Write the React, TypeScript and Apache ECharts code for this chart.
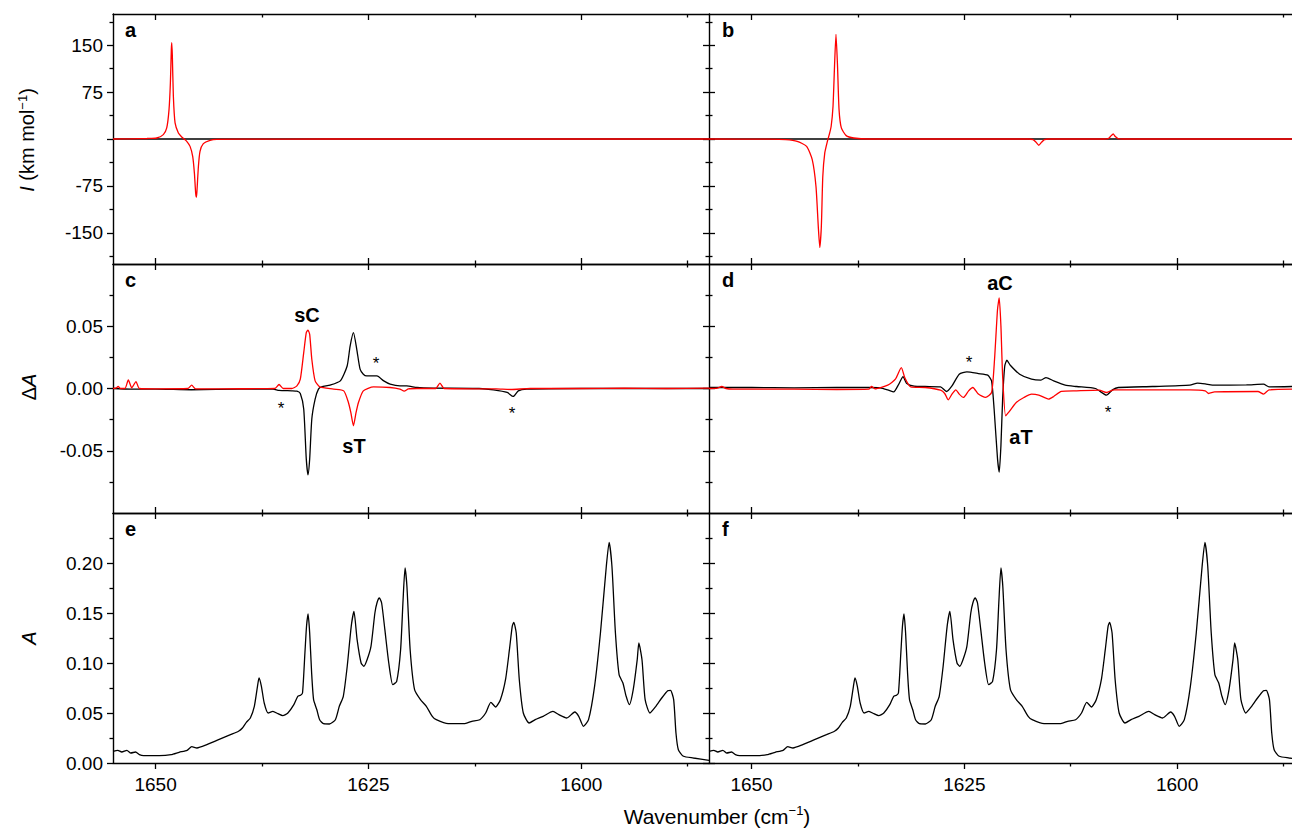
import React, { useEffect, useRef } from 'react';
import * as echarts from 'echarts';

const FONT = '"Liberation Sans", Arial, Helvetica, sans-serif';

// ---- axis ticks ----
const xMajor = [1650, 1625, 1600];
const xMinor = [1637.5, 1612.5, 1587.5];
const xLeftRange = [1585, 1655];
const xRightRange = [1586.5, 1655];

const iMajor = [-150, -75, 0, 75, 150];
const iLabels = [-150, -75, 75, 150];
const iMinor = [-187.5, -112.5, -37.5, 37.5, 112.5, 187.5];
const dMajor = [-0.05, 0, 0.05];
const dLabels = [-0.05, 0, 0.05];
const dMinor = [-0.075, -0.025, 0.025, 0.075];
const aMajor = [0, 0.05, 0.1, 0.15, 0.2];
const aLabels = [0, 0.05, 0.1, 0.15, 0.2];
const aMinor = [0.025, 0.075, 0.125, 0.175, 0.225];

// ---- data: [wavenumber, value] ----
const zeroLine: [number, number][] = [[1655, 0], [1585, 0]];

const aRed: [number, number][] = [
  [1655, 0], [1653, 0.3], [1651, 0.8], [1649.87, 1.6], [1649.09, 7], [1648.69, 17.7], [1648.42, 47],
  [1648.26, 90], [1648.15, 143], [1648.1, 154], [1648.03, 133], [1647.91, 68.5], [1647.71, 25.7],
  [1647.32, 9.6], [1646.93, 3.2], [1646.66, 0], [1646.34, -3.7], [1645.95, -11.8], [1645.64, -27.8],
  [1645.44, -54.6], [1645.29, -86.7], [1645.2, -93], [1645.13, -81.3], [1644.97, -43.9], [1644.78, -19.8],
  [1644.39, -7.5], [1643.6, -2.1], [1642.8, -0.5], [1640, -0.2], [1630, 0], [1585, 0],
];

const bRed: [number, number][] = [
  [1655, 0], [1648, -0.3], [1645.97, -1], [1644.64, -3.7], [1643.53, -11.8], [1642.87, -33], [1642.43, -76],
  [1642.16, -140], [1641.98, -173.5], [1641.8, -140], [1641.63, -60], [1641.4, -22.5], [1641.09, -3.7],
  [1640.87, 7], [1640.65, 20], [1640.43, 52], [1640.25, 117], [1640.08, 167.5], [1639.9, 117],
  [1639.72, 47], [1639.45, 17.7], [1638.88, 5.4], [1637.99, 1.6], [1636.2, 0], [1617.5, 0],
  [1616.92, -1.1], [1616.56, -5.4], [1616.25, -10], [1615.94, -5.4], [1615.59, -1.1], [1615, 0],
  [1608.6, 0], [1608.04, 1.1], [1607.74, 5.4], [1607.51, 8], [1607.29, 4.3], [1606.94, 0.5], [1606.3, 0],
  [1586.5, 0],
];

const cRed: [number, number][] = [
  [1655, 0], [1654.6, 0.0005], [1654.4, 0.0016], [1654.1, 0], [1653.6, 0], [1653.2, 0.0069], [1652.8, 0.0005],
  [1652.3, 0.0056], [1651.9, 0], [1650, -0.0003], [1646.2, 0], [1645.76, 0.0027], [1645.3, -0.0003],
  [1640, -0.0002], [1636, 0], [1635.5, 0.0032], [1635, 0], [1634, 0], [1633.4, 0.0021], [1633.0, 0.0075],
  [1632.6, 0.0288], [1632.3, 0.0448], [1632.1, 0.0469], [1631.9, 0.0435], [1631.65, 0.0235], [1631.26, 0.0061],
  [1630.7, 0.0013], [1629.1, -0.0005], [1627.9, -0.0019], [1627.35, -0.0112], [1627.07, -0.0192],
  [1626.76, -0.0299], [1626.45, -0.0192], [1626.17, -0.0112], [1625.6, -0.0019], [1624.4, 0.0013],
  [1622.45, 0.0008], [1621.3, -0.0005], [1620.8, -0.0021], [1620.3, -0.0003], [1619.3, 0], [1617.1, 0],
  [1616.6, 0.0043], [1616.1, 0], [1610, -0.0003], [1608.3, -0.0008], [1606, 0], [1600, 0], [1595, 0.0003],
  [1590, 0], [1585, 0.0003],
];

const cBlack: [number, number][] = [
  [1655, 0], [1653, -0.0005], [1650, -0.0005], [1645.8, -0.001], [1640, -0.0005], [1636.2, -0.0005],
  [1635.5, -0.0015], [1634, -0.0019], [1633.4, -0.0022], [1633.0, -0.004], [1632.6, -0.0165],
  [1632.3, -0.0565], [1632.1, -0.0693], [1631.9, -0.0565], [1631.65, -0.0245], [1631.26, -0.0085],
  [1630.87, -0.0005], [1630.5, 0.0013], [1629.5, 0.0027], [1628.3, 0.0061], [1627.5, 0.0181],
  [1627.15, 0.0341], [1626.76, 0.0448], [1626.37, 0.0315], [1625.98, 0.0155], [1625.6, 0.0115],
  [1625.2, 0.0101], [1624.0, 0.0101], [1623.2, 0.0061], [1622.45, 0.0035], [1621.3, 0.0021],
  [1620.5, 0.0021], [1619.3, 0.0008], [1617.4, 0.0003], [1612, 0], [1610.3, -0.0011], [1608.7, -0.0032],
  [1608.0, -0.0064], [1607.4, -0.0019], [1606.4, -0.0005], [1600, 0], [1590, 0], [1585, 0],
];

const dRed: [number, number][] = [
  [1655, 0], [1654, 0.0003], [1653.5, 0.0016], [1653.0, 0], [1652.2, -0.0005], [1645, -0.0005],
  [1640, -0.0008], [1636.2, -0.0005], [1635.9, 0.0016], [1635.5, -0.0003], [1634.0, 0.0027],
  [1633.1, 0.0075], [1632.4, 0.0168], [1632.0, 0.0088], [1631.3, 0.0013], [1629.6, 0.0008],
  [1627.8, -0.0013], [1627.3, -0.004], [1626.9, -0.0091], [1626.45, -0.0045], [1626.0, -0.0011],
  [1625.6, -0.0045], [1625.1, -0.0072], [1624.5, -0.0019], [1624.0, 0.0008], [1623.35, -0.0045],
  [1622.5, -0.0072], [1621.8, -0.0032], [1621.45, 0.0235], [1621.1, 0.0635], [1620.9, 0.0728],
  [1620.7, 0.0501], [1620.5, 0.0101], [1620.15, -0.0219], [1619.8, -0.0192], [1618.9, -0.0112],
  [1618.0, -0.0072], [1617.1, -0.0045], [1616.25, -0.0053], [1615.1, -0.0085], [1614.5, -0.0064],
  [1613.6, -0.0024], [1611.8, -0.0019], [1609.15, -0.0013], [1608.3, -0.0032], [1607.4, -0.0011],
  [1602.9, -0.0011], [1598.5, -0.0011], [1596.7, -0.0019], [1596.3, -0.004], [1595.6, -0.0027],
  [1590.5, -0.0024], [1589.85, -0.0045], [1589.2, -0.0011], [1586.5, -0.0005],
];

const dBlack: [number, number][] = [
  [1655, 0.0008], [1650, 0.0008], [1645, 0.0005], [1640, 0.0008], [1636.2, 0.0008], [1634.9, 0.0005],
  [1634.0, -0.0011], [1633.3, -0.0027], [1632.7, 0.0035], [1632.2, 0.0096], [1631.8, 0.0043],
  [1630.9, 0.0019], [1629.6, 0.0016], [1627.8, 0.0013], [1627.1, -0.0024], [1626.45, 0.0021],
  [1625.6, 0.0115], [1624.7, 0.0133], [1623.35, 0.012], [1622.25, 0.0107], [1621.8, 0.0061],
  [1621.5, -0.0165], [1621.1, -0.0565], [1620.9, -0.0672], [1620.7, -0.0459], [1620.5, -0.0085],
  [1620.25, 0.0181], [1620.0, 0.0227], [1619.6, 0.0187], [1618.5, 0.0115], [1617.1, 0.0075],
  [1616.0, 0.0067], [1615.4, 0.0088], [1614.5, 0.0061], [1613.15, 0.0027], [1611.8, 0.0016],
  [1609.6, 0], [1608.3, -0.0053], [1607.6, -0.0011], [1606.9, 0.0008], [1602.9, 0.0016],
  [1598.5, 0.0027], [1597.6, 0.0043], [1596.7, 0.0037], [1595.85, 0.0027], [1591.85, 0.0029],
  [1589.85, 0.0035], [1589.2, 0.0013], [1586.5, 0.0016],
];

const absorbance: [number, number][] = [
  [1655, 0.0117], [1654.44, 0.0127], [1653.97, 0.011], [1653.37, 0.0127], [1652.9, 0.01], [1652.35, 0.011],
  [1651.9, 0.0083], [1651.4, 0.0073], [1649.56, 0.0073], [1648.16, 0.0083], [1647.23, 0.0107],
  [1646.3, 0.0127], [1645.75, 0.0163], [1645.14, 0.015], [1643.98, 0.0183], [1642.6, 0.0233],
  [1641.2, 0.0283], [1640.26, 0.0317], [1639.8, 0.035], [1639.34, 0.0407], [1638.87, 0.045],
  [1638.4, 0.0567], [1638.03, 0.0767], [1637.85, 0.085], [1637.57, 0.0767], [1637.24, 0.06],
  [1636.78, 0.05], [1636.22, 0.0517], [1635.62, 0.0493], [1635.06, 0.0473], [1634.46, 0.05],
  [1633.76, 0.0583], [1633.3, 0.0667], [1632.97, 0.0677], [1632.74, 0.07], [1632.46, 0.11],
  [1632.27, 0.1367], [1632.09, 0.149], [1631.9, 0.13], [1631.67, 0.09], [1631.44, 0.0633],
  [1631.06, 0.0533], [1630.73, 0.0433], [1630.28, 0.0393], [1629.58, 0.039], [1628.88, 0.0433],
  [1628.42, 0.0567], [1627.95, 0.0667], [1627.49, 0.0967], [1627.02, 0.1367], [1626.7, 0.1517],
  [1626.33, 0.1233], [1625.86, 0.1], [1625.54, 0.0967], [1625.16, 0.1033], [1624.7, 0.1167],
  [1624.24, 0.15], [1624.0, 0.16], [1623.72, 0.165], [1623.45, 0.16], [1623.07, 0.1333],
  [1622.61, 0.1], [1622.14, 0.0783], [1621.68, 0.0817], [1621.22, 0.1133], [1620.93, 0.1633],
  [1620.7, 0.195], [1620.48, 0.1767], [1620.1, 0.1133], [1619.58, 0.0733], [1618.89, 0.0633],
  [1618.2, 0.0567], [1617.5, 0.0467], [1617.03, 0.0433], [1615.63, 0.0393], [1613.78, 0.0393],
  [1612.85, 0.0417], [1611.92, 0.0433], [1611.23, 0.05], [1610.62, 0.0607], [1610.06, 0.056],
  [1609.5, 0.0633], [1608.9, 0.0833], [1608.44, 0.1133], [1608.11, 0.1367], [1607.93, 0.1407],
  [1607.64, 0.13], [1607.28, 0.0833], [1606.81, 0.05], [1606.12, 0.04], [1605.41, 0.0433],
  [1604.48, 0.0467], [1603.33, 0.0517], [1602.63, 0.0483], [1601.7, 0.045], [1600.77, 0.051],
  [1600.3, 0.0467], [1599.75, 0.0367], [1599.15, 0.0433], [1598.44, 0.0767], [1597.75, 0.13],
  [1597.06, 0.1967], [1596.73, 0.2207], [1596.4, 0.1967], [1595.99, 0.13], [1595.56, 0.0883],
  [1595.11, 0.08], [1594.73, 0.0667], [1594.35, 0.0583], [1593.9, 0.0733], [1593.43, 0.1033],
  [1593.24, 0.12], [1592.87, 0.1033], [1592.5, 0.0633], [1591.94, 0.05], [1591.24, 0.0567],
  [1590.55, 0.065], [1589.85, 0.0723], [1589.52, 0.0727], [1589.15, 0.0633], [1588.88, 0.03],
  [1588.6, 0.0133], [1588.0, 0.0067], [1586.83, 0.005], [1585.0, 0.0027],
];

const RED = '#ff0000';
const BLACK = '#000000';

type Panel = {
  letter: string;
  left: number; top: number; width: number; height: number;
  xr: number[]; isLeft: boolean; isBottom: boolean;
  y: { min: number; max: number; major: number[]; labels: number[]; minor: number[]; fmt: (v: number) => string };
  lines: { data: [number, number][]; color: string }[];
};

const yI = { min: -200, max: 200, major: iMajor, labels: iLabels, minor: iMinor, fmt: (v: number) => String(v) };
const yD = { min: -0.1, max: 0.1, major: dMajor, labels: dLabels, minor: dMinor, fmt: (v: number) => v.toFixed(2) };
const yA = { min: 0, max: 0.25, major: aMajor, labels: aLabels, minor: aMinor, fmt: (v: number) => v.toFixed(2) };

const LW = 113, LWID = 596, RW = 709, RWID = 583;
const panels: Panel[] = [
  { letter: 'a', left: LW, top: 14, width: LWID, height: 250, xr: xLeftRange, isLeft: true, isBottom: false, y: yI, lines: [{ data: zeroLine, color: BLACK }, { data: aRed, color: RED }] },
  { letter: 'b', left: RW, top: 14, width: RWID, height: 250, xr: xRightRange, isLeft: false, isBottom: false, y: yI, lines: [{ data: zeroLine, color: BLACK }, { data: bRed, color: RED }] },
  { letter: 'c', left: LW, top: 264, width: LWID, height: 249, xr: xLeftRange, isLeft: true, isBottom: false, y: yD, lines: [{ data: cBlack, color: BLACK }, { data: cRed, color: RED }] },
  { letter: 'd', left: RW, top: 264, width: RWID, height: 249, xr: xRightRange, isLeft: false, isBottom: false, y: yD, lines: [{ data: dBlack, color: BLACK }, { data: dRed, color: RED }] },
  { letter: 'e', left: LW, top: 513, width: LWID, height: 250, xr: xLeftRange, isLeft: true, isBottom: true, y: yA, lines: [{ data: absorbance, color: BLACK }] },
  { letter: 'f', left: RW, top: 513, width: RWID, height: 250, xr: xRightRange, isLeft: false, isBottom: true, y: yA, lines: [{ data: absorbance, color: BLACK }] },
];

function buildOption() {
  const axisLineStyle = { color: '#000', width: 1.4 };
  const tickStyle = { color: '#000', width: 1.3 };
  const labelStyle = { fontSize: 19, fontFamily: FONT, color: '#000' };
  const grid: any[] = [];
  const xAxis: any[] = [];
  const yAxis: any[] = [];
  const series: any[] = [];
  const graphic: any[] = [];

  panels.forEach((p, gi) => {
    grid.push({ left: p.left, top: p.top, width: p.width, height: p.height });
    const xBase = {
      type: 'value', gridIndex: gi, min: p.xr[0], max: p.xr[1], inverse: true, silent: true,
      splitLine: { show: false }, axisLine: { show: false, onZero: false }, axisLabel: { show: false }, axisTick: { show: false },
    };
    const xMainIdx = xAxis.length;
    xAxis.push({
      ...xBase, position: 'bottom',
      axisLine: { show: true, onZero: false, lineStyle: axisLineStyle },
      axisTick: { show: true, inside: !p.isBottom, length: 6, customValues: xMajor, lineStyle: tickStyle },
      axisLabel: p.isBottom
        ? { show: true, customValues: xMajor, margin: 12, formatter: (v: number) => String(Math.round(v)), ...labelStyle }
        : { show: false },
    });
    xAxis.push({ ...xBase, position: 'bottom', axisTick: { show: true, inside: !p.isBottom, length: 3.5, customValues: xMinor, lineStyle: tickStyle } });
    xAxis.push({
      ...xBase, position: 'top',
      axisLine: { show: true, onZero: false, lineStyle: axisLineStyle },
      axisTick: { show: true, inside: true, length: 6, customValues: xMajor, lineStyle: tickStyle },
    });
    xAxis.push({ ...xBase, position: 'top', axisTick: { show: true, inside: true, length: 3.5, customValues: xMinor, lineStyle: tickStyle } });

    const yBase = {
      type: 'value', gridIndex: gi, min: p.y.min, max: p.y.max, silent: true,
      splitLine: { show: false }, axisLine: { show: false, onZero: false }, axisLabel: { show: false }, axisTick: { show: false },
    };
    const yMainIdx = yAxis.length;
    yAxis.push({
      ...yBase, position: 'left',
      axisLine: { show: true, onZero: false, lineStyle: axisLineStyle },
      axisTick: { show: true, inside: !p.isLeft, length: 6, customValues: p.y.major, lineStyle: tickStyle },
      axisLabel: p.isLeft ? { show: true, customValues: p.y.labels, margin: 10, formatter: p.y.fmt, ...labelStyle } : { show: false },
    });
    yAxis.push({ ...yBase, position: 'left', axisTick: { show: true, inside: !p.isLeft, length: 3.5, customValues: p.y.minor, lineStyle: tickStyle } });
    if (p.isLeft) {
      yAxis.push({ ...yBase, position: 'right', axisTick: { show: true, inside: true, length: 6, customValues: p.y.major, lineStyle: tickStyle } });
      yAxis.push({ ...yBase, position: 'right', axisTick: { show: true, inside: true, length: 3.5, customValues: p.y.minor, lineStyle: tickStyle } });
    }

    p.lines.forEach((ln) => {
      series.push({
        type: 'line', xAxisIndex: xMainIdx, yAxisIndex: yMainIdx, data: ln.data,
        symbol: 'none', showSymbol: false, smooth: 0.2, clip: true, silent: true,
        lineStyle: { color: ln.color, width: 1.3 },
      });
    });

    graphic.push({
      type: 'text', x: p.left + (p.isLeft ? 12 : 13), y: p.top + 6,
      style: { text: p.letter, fontSize: 20, fontWeight: 'bold', fontFamily: FONT, fill: '#000', textAlign: 'left', textVerticalAlign: 'top' },
    });
  });

  const annot = (text: string, x: number, y: number, bold = true, size = 20) => ({
    type: 'text', x, y,
    style: { text, fontSize: size, fontWeight: bold ? 'bold' : 'normal', fontFamily: FONT, fill: '#000', textAlign: 'center', textVerticalAlign: 'middle' },
  });
  graphic.push(annot('sC', 307, 315));
  graphic.push(annot('sT', 354, 446));
  graphic.push(annot('aC', 1000, 283));
  graphic.push(annot('aT', 1021, 437));
  [[376, 360], [281, 405], [512, 410], [969, 359], [1108, 409]].forEach(([x, y]) => graphic.push(annot('*', x, y + 3, false, 17)));

  // axis titles
  const richBase = {
    i: { fontStyle: 'italic', fontSize: 20, fontFamily: FONT, fill: '#000' },
    n: { fontSize: 20, fontFamily: FONT, fill: '#000' },
    s: { fontSize: 13, fontFamily: FONT, fill: '#000', verticalAlign: 'top', lineHeight: 23 },
  };
  const richX = {
    n: { fontSize: 21, fontFamily: FONT, fill: '#000' },
    s: { fontSize: 13, fontFamily: FONT, fill: '#000', verticalAlign: 'top', lineHeight: 24 },
  };
  const title = (text: string, x: number, y: number, rot: number, rich: any) => ({
    type: 'text', x, y, rotation: rot,
    style: { text, rich, fontSize: 20, fontFamily: FONT, fill: '#000', textAlign: 'center', textVerticalAlign: 'middle' },
  });
  graphic.push(title('{i|I}{n| (km mol}{s|−1}{n|)}', 27, 140, Math.PI / 2, richBase));
  graphic.push(title('{n|Δ}{i|A}', 29, 387, Math.PI / 2, richBase));
  graphic.push(title('{i|A}', 29, 638, Math.PI / 2, richBase));
  graphic.push(title('{n|Wavenumber (cm}{s|−1}{n|)}', 717, 816, 0, richX));

  return { animation: false, grid, xAxis, yAxis, series, graphic };
}

export default function App() {
  const ref = useRef<HTMLDivElement>(null);
  useEffect(() => {
    if (!ref.current) return;
    const chart = echarts.init(ref.current, undefined, { renderer: 'svg' });
    chart.setOption(buildOption() as any);
    return () => chart.dispose();
  }, []);
  return (
    <div
      ref={ref}
      style={{ position: 'absolute', left: 0, top: 0, width: 1292, height: 828, background: '#fff' }}
    />
  );
}
